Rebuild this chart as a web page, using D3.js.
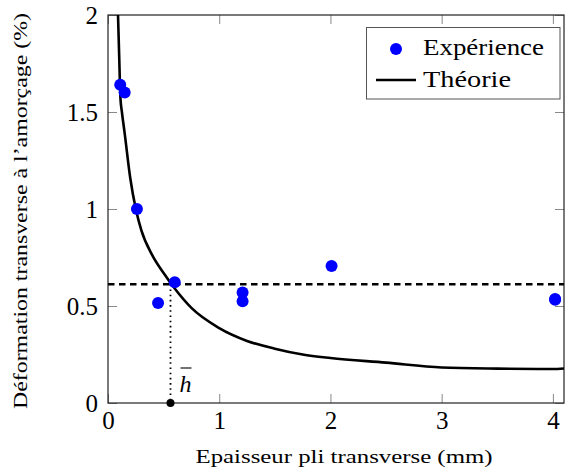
<!DOCTYPE html>
<html>
<head>
<meta charset="utf-8">
<script src="https://cdn.jsdelivr.net/npm/d3@7"></script>
<style>
  body { margin: 0; background: #fff; }
  svg { display: block; }
  text { font-family: "Liberation Serif", "Times New Roman", serif; fill: #000; }
  .tick line { stroke: #888; }
  .domain { display: none; }
</style>
</head>
<body>
<div id="chart"></div>
<script>
// measured points (thickness in mm, strain in %)
var expX = [0.11, 0.15, 0.26, 0.45, 0.60, 1.21, 1.21, 2.01, 4.02, 4.02];
var expY = [1.64, 1.60, 1.00, 0.516, 0.622, 0.57, 0.524, 0.706, 0.536, 0.532];

// theory curve
var theoX = [0.07, 0.09, 0.1, 0.112, 0.125, 0.15, 0.2, 0.25, 0.3, 0.4, 0.5, 0.6, 0.75, 1.0, 1.25, 1.5, 1.75, 2.0, 2.5, 3.0, 3.5, 4.0, 4.1];
var theoY = [2.4, 2.0, 1.8, 1.57, 1.5, 1.39, 1.16, 1.0, 0.89, 0.76, 0.67, 0.59, 0.49, 0.386, 0.32, 0.28, 0.25, 0.232, 0.208, 0.183, 0.177, 0.175, 0.178];

var hBar = 0.562;
var hLevel = 0.612;

var xTicks = [0, 1, 2, 3, 4];
var yTicks = [0, 0.5, 1, 1.5, 2];
var xLabel = 'Epaisseur pli transverse (mm)';
var yLabel = 'Déformation transverse à l\u2019amorçage (%)';

var W = 567, H = 470;
var margin = { top: 15, right: 3, bottom: 67, left: 108 };
var FONT = '"Liberation Serif", "Times New Roman", serif';

var svg = d3.select('#chart').append('svg').attr('width', W).attr('height', H);

var x = d3.scaleLinear().domain([0, 4.1]).range([margin.left, W - margin.right]);
var y = d3.scaleLinear().domain([0, 2]).range([H - margin.bottom, margin.top]);

svg.append('clipPath').attr('id', 'clip').append('rect')
  .attr('x', margin.left).attr('y', margin.top)
  .attr('width', W - margin.left - margin.right)
  .attr('height', H - margin.top - margin.bottom);

// axes, ticks pointing inward
var tl = 9;
function styleAxis(g) {
  g.attr('font-family', FONT).attr('font-size', 25);
}
svg.append('g').attr('transform', 'translate(0,' + y(0) + ')')
  .call(d3.axisBottom(x).tickValues(xTicks).tickFormat(d3.format('d')).tickSizeInner(-tl).tickSizeOuter(0).tickPadding(8))
  .call(styleAxis);
svg.append('g').attr('transform', 'translate(0,' + y(2) + ')')
  .call(d3.axisTop(x).tickValues(xTicks).tickFormat('').tickSizeInner(-tl).tickSizeOuter(0));
svg.append('g').attr('transform', 'translate(' + x(0) + ',0)')
  .call(d3.axisLeft(y).tickValues(yTicks).tickFormat(function(d) { return d; }).tickSizeInner(-tl).tickSizeOuter(0).tickPadding(10))
  .call(styleAxis);
svg.append('g').attr('transform', 'translate(' + x(4.1) + ',0)')
  .call(d3.axisRight(y).tickValues(yTicks).tickFormat('').tickSizeInner(-tl).tickSizeOuter(0));

svg.append('rect')
  .attr('x', x(0)).attr('y', y(2))
  .attr('width', x(4.1) - x(0)).attr('height', y(0) - y(2))
  .attr('fill', 'none').attr('stroke', '#222').attr('stroke-width', 1.2);

var plot = svg.append('g').attr('clip-path', 'url(#clip)');

// threshold line
plot.append('line')
  .attr('x1', x(0)).attr('x2', x(4.1))
  .attr('y1', y(hLevel)).attr('y2', y(hLevel))
  .attr('stroke', '#000').attr('stroke-width', 2.6).attr('stroke-dasharray', '6.5,4.5');

// h bar marker
plot.append('line')
  .attr('x1', x(hBar)).attr('x2', x(hBar))
  .attr('y1', y(hLevel)).attr('y2', y(0))
  .attr('stroke', '#000').attr('stroke-width', 1.8).attr('stroke-dasharray', '1.6,3.6');

var line = d3.line().x(function(d) { return x(d[0]); }).y(function(d) { return y(d[1]); }).curve(d3.curveMonotoneX);
plot.append('path')
  .datum(d3.zip(theoX, theoY))
  .attr('d', line)
  .attr('fill', 'none').attr('stroke', '#000').attr('stroke-width', 2.6);

svg.selectAll('.exp').data(d3.zip(expX, expY)).enter().append('circle')
  .attr('class', 'exp')
  .attr('cx', function(d) { return x(d[0]); })
  .attr('cy', function(d) { return y(d[1]); })
  .attr('r', 6).attr('fill', '#0000ff');

svg.append('circle').attr('cx', x(hBar)).attr('cy', y(0)).attr('r', 4).attr('fill', '#000');

var hl = svg.append('g').attr('transform', 'translate(' + (x(hBar) + 9) + ',' + (y(0) - 11) + ')');
hl.append('text').attr('x', 0).attr('y', 0)
  .style('font-size', '24px').style('font-style', 'italic').text('h');
hl.append('line').attr('x1', 1).attr('x2', 12).attr('y1', -24).attr('y2', -24)
  .attr('stroke', '#000').attr('stroke-width', 1.1);

// axis labels
svg.append('text')
  .attr('x', 344).attr('y', 463)
  .attr('text-anchor', 'middle').style('font-size', '19.5px')
  .attr('textLength', 297).attr('lengthAdjust', 'spacingAndGlyphs')
  .text(xLabel);
svg.append('text')
  .attr('transform', 'translate(27,' + 211 + ') rotate(-90)')
  .attr('text-anchor', 'middle').style('font-size', '19.5px')
  .attr('textLength', 396).attr('lengthAdjust', 'spacingAndGlyphs')
  .text(yLabel);

// legend
var lg = svg.append('g');
lg.append('rect').attr('x', 366.5).attr('y', 27.5).attr('width', 193.5).attr('height', 71.5)
  .attr('fill', '#fff').attr('stroke', '#555').attr('stroke-width', 1);
lg.append('circle').attr('cx', 396).attr('cy', 49).attr('r', 6).attr('fill', '#0000ff');
lg.append('line').attr('x1', 376).attr('x2', 416).attr('y1', 80).attr('y2', 80)
  .attr('stroke', '#000').attr('stroke-width', 2.6);
lg.append('text').attr('x', 423).attr('y', 55).style('font-size', '24px')
  .attr('textLength', 121).attr('lengthAdjust', 'spacingAndGlyphs').text('Expérience');
lg.append('text').attr('x', 423).attr('y', 87).style('font-size', '24px')
  .attr('textLength', 88).attr('lengthAdjust', 'spacingAndGlyphs').text('Théorie');
</script>
</body>
</html>
